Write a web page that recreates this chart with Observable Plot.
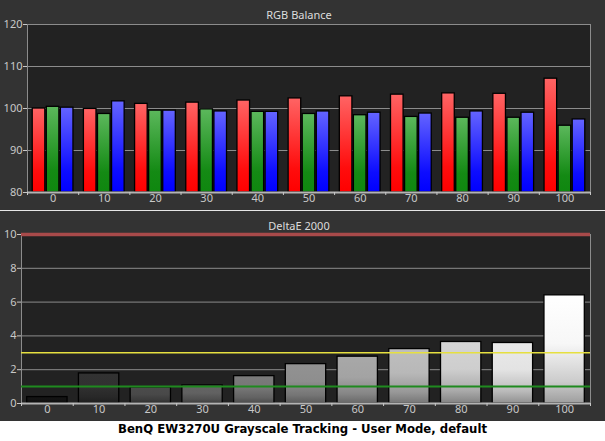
<!DOCTYPE html>
<html><head><meta charset="utf-8">
<script src="https://cdn.jsdelivr.net/npm/d3@7"></script>
<script src="https://cdn.jsdelivr.net/npm/@observablehq/plot@0.6"></script>
<style>
body{margin:0;background:#fff;width:605px;height:441px;overflow:hidden}
#panels{background:#333;width:605px}
.sep{height:1px;background:#e6e6e6}
#caption{height:20px;line-height:20px;text-align:center;font:bold 13px "DejaVu Sans Condensed","DejaVu Sans",sans-serif;color:#000;background:#fff;white-space:nowrap}
svg{display:block}
</style></head><body>
<div id="panels"><div id="topPanel"></div><div class="sep"></div><div id="bottomPanel"></div></div>
<div id="caption"></div>
<script>
// ---- data ----
const categories = [0, 10, 20, 30, 40, 50, 60, 70, 80, 90, 100];
const red   = [100.0, 99.9, 101.1, 101.4, 101.9, 102.4, 102.9, 103.3, 103.6, 103.5, 107.1];
const green = [100.4, 98.7, 99.5, 99.8, 99.2, 98.7, 98.4, 98.0, 97.8, 97.8, 95.9];
const blue  = [100.2, 101.7, 99.5, 99.3, 99.2, 99.3, 99.0, 98.8, 99.3, 99.0, 97.4];
const deltaE = [0.38, 1.78, 0.95, 1.07, 1.62, 2.33, 2.77, 3.22, 3.64, 3.58, 6.4];
const rgbTicks = [80, 90, 100, 110, 120];
const deTicks = [0, 2, 4, 6, 8, 10];
const deLimits = {red: 10, yellow: 3, green: 1};
const titleTop = "RGB Balance";
const titleBottom = "DeltaE 2000";
const caption = "BenQ EW3270U Grayscale Tracking - User Mode, default";

// ---- derived tables ----
const channels = ["R", "G", "B"];
const series = {R: red, G: green, B: blue};
const rgbRows = categories.flatMap((c, i) => channels.map((ch, j) => ({cat: c, ch, j, v: series[ch][i]})));
const deRows = categories.map((c, i) => ({cat: c, v: deltaE[i]}));
const bounds = [...categories.map(c => c - 5), categories[categories.length - 1] + 5];
const xDomain = [bounds[0], bounds[bounds.length - 1]];
const rgbBase = rgbTicks[0];

const font = {fontFamily: "'Noto Sans', sans-serif", fontSize: "11px", background: "transparent", color: "#c8c8c8", overflow: "visible"};

// grouped bar geometry in category units
const groupStep = 2.75, halfBar = 1.23;

const topChart = Plot.plot({
  width: 605, height: 210,
  marginLeft: 27, marginRight: 15, marginTop: 24, marginBottom: 18,
  style: font,
  x: {domain: xDomain, axis: null},
  y: {domain: [rgbTicks[0], rgbTicks[rgbTicks.length - 1]], axis: null},
  color: {type: "identity"},
  marks: [
    Plot.frame({fill: "#222", stroke: null}),
    Plot.ruleY(rgbTicks.slice(1, -1), {stroke: "#8c8c8c", strokeWidth: 1}),
    Plot.frame({stroke: "#8c8c8c", strokeWidth: 1}),
    Plot.rectY(rgbRows, {
      x1: d => d.cat + (d.j - 1) * groupStep - halfBar,
      x2: d => d.cat + (d.j - 1) * groupStep + halfBar,
      y1: () => rgbBase, y2: "v",
      fill: d => `url(#g${d.ch})`, stroke: "#000", strokeWidth: 1.3
    }),
    Plot.ruleY([rgbBase], {stroke: "#b4b4b4", strokeWidth: 2}),
    Plot.axisY({ticks: rgbTicks, tickSize: 4, tickPadding: 1, color: "#c8c8c8", fontSize: 11, label: null}),
    Plot.axisX({ticks: bounds, tickSize: 3, tickFormat: () => "", color: "#c8c8c8", label: null}),
    Plot.axisX({ticks: categories, tickSize: 0, tickPadding: 2, color: "#c8c8c8", fontSize: 11, label: null}),
    Plot.text([titleTop], {frameAnchor: "top", lineAnchor: "middle", dy: -9, dx: -10, fill: "#dcdcdc", fontSize: 11})
  ]
});
d3.select(topChart).insert("defs", ":first-child").html(`
  <linearGradient id="gR" x1="0" y1="0" x2="0" y2="1"><stop offset="0" stop-color="#ff6464"/><stop offset="0.75" stop-color="#ff0d0d"/><stop offset="1" stop-color="#ff0000"/></linearGradient>
  <linearGradient id="gG" x1="0" y1="0" x2="0" y2="1"><stop offset="0" stop-color="#5cb85c"/><stop offset="0.75" stop-color="#148a14"/><stop offset="1" stop-color="#0f870f"/></linearGradient>
  <linearGradient id="gB" x1="0" y1="0" x2="0" y2="1"><stop offset="0" stop-color="#6464ff"/><stop offset="0.75" stop-color="#0d0dff"/><stop offset="1" stop-color="#0000ff"/></linearGradient>`);
document.getElementById("topPanel").append(topChart);

const grayOf = c => Math.round(20 + 235 * Math.pow(c / 100, 0.9));
const bottomChart = Plot.plot({
  width: 605, height: 210,
  marginLeft: 21, marginRight: 15, marginTop: 23, marginBottom: 18,
  style: font,
  x: {domain: xDomain, axis: null},
  y: {domain: [deTicks[0], deTicks[deTicks.length - 1]], axis: null},
  color: {type: "identity"},
  marks: [
    Plot.frame({fill: "#222", stroke: null}),
    Plot.ruleY(deTicks.slice(1, -1), {stroke: "#8c8c8c", strokeWidth: 1}),
    Plot.frame({stroke: "#8c8c8c", strokeWidth: 1}),
    Plot.rectY(deRows, {
      x1: d => d.cat - 3.9, x2: d => d.cat + 3.9,
      y1: () => 0, y2: "v",
      fill: d => `url(#d${d.cat})`, stroke: "#000", strokeWidth: 1.3
    }),
    Plot.ruleY([deLimits.green], {stroke: "#1f8a1f", strokeWidth: 2}),
    Plot.ruleY([deLimits.yellow], {stroke: "#e6e040", strokeWidth: 1.5}),
    Plot.ruleY([deLimits.red], {stroke: "#a84a4a", strokeWidth: 3.5}),
    Plot.ruleY([0], {stroke: "#b4b4b4", strokeWidth: 2}),
    Plot.axisY({ticks: deTicks, tickSize: 4, tickPadding: 1, color: "#c8c8c8", fontSize: 11, label: null}),
    Plot.axisX({ticks: bounds, tickSize: 3, tickFormat: () => "", color: "#c8c8c8", label: null}),
    Plot.axisX({ticks: categories, tickSize: 0, tickPadding: 2, color: "#c8c8c8", fontSize: 11, label: null}),
    Plot.text([titleBottom], {frameAnchor: "top", lineAnchor: "middle", dy: -8, dx: -7, fill: "#dcdcdc", fontSize: 11})
  ]
});
d3.select(bottomChart).insert("defs", ":first-child").html(categories.map(c => {
  const g = grayOf(c);
  const col = k => d3.rgb(g * k, g * k, g * k).formatHex();
  return `<linearGradient id="d${c}" x1="0" y1="0" x2="0" y2="1"><stop offset="0" stop-color="${col(1)}"/><stop offset="0.45" stop-color="${col(0.97)}"/><stop offset="0.8" stop-color="${col(0.8)}"/><stop offset="1" stop-color="${col(0.62)}"/></linearGradient>`;
}).join(""));
document.getElementById("bottomPanel").append(bottomChart);
document.getElementById("caption").textContent = caption;
</script>
</body></html>
